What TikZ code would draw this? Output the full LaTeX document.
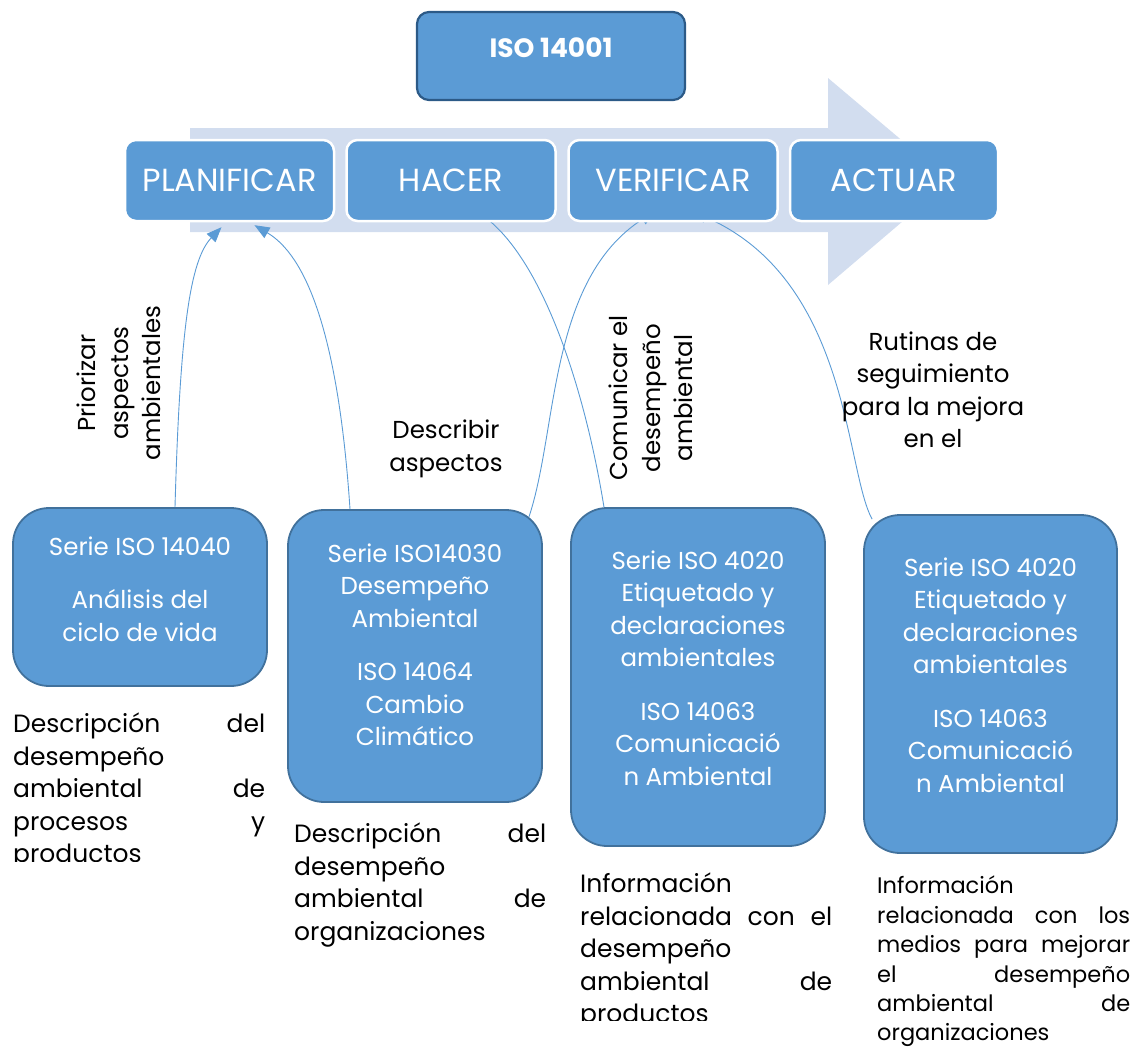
\documentclass[tikz,border=0pt]{standalone}
\usepackage{fontspec}
\setmainfont{Poppins}
\usetikzlibrary{arrows.meta}
\definecolor{boxblue}{HTML}{5B9BD5}
\definecolor{boxedge}{HTML}{41719C}
\definecolor{topedge}{HTML}{2C5A87}
\definecolor{flowband}{HTML}{D2DDEF}
% a fully justified line of given width (word spaces stretch to fill it)
\newcommand{\jline}[2][252pt]{\leavevmode
  \hbox to #1{\spaceskip=\fontdimen2\font plus 1fil\relax #2}}
\begin{document}
\begin{tikzpicture}[x=1pt,y=-1pt,
  phase/.style={draw=white, line width=2.5pt, fill=boxblue, rounded corners=11pt,
    minimum width=209pt, minimum height=81pt, text=white,
    font=\fontsize{32}{37}\selectfont, inner sep=0pt},
  stdbox/.style={draw=boxedge, line width=1.8pt, fill=boxblue, rounded corners=36pt,
    inner sep=0pt},
  stdtext/.style={text=white, align=center, font=\fontsize{24.5}{32.5}\selectfont, inner sep=0pt},
  note/.style={text=black, align=left, text width=252pt,
    font=\fontsize{25}{32.5}\selectfont, inner sep=0pt, anchor=north west},
  smallnote/.style={note, font=\fontsize{22.5}{29.4}\selectfont},
  label/.style={text=black, align=center, font=\fontsize{24.5}{32.5}\selectfont, inner sep=0pt},
  link/.style={draw=boxblue, line width=0.9pt},
  tip/.style={-{Triangle[length=15pt,width=12pt]}}
]
\useasboundingbox (0,0) rectangle (1138,1047);

% light process band behind the PDCA steps
\fill[flowband] (190,128) -- (828,128) -- (828,78) -- (950,181) -- (828,285)
  -- (828,232) -- (190,232) -- cycle;

% PDCA step centres
\coordinate (planc) at (229.5,180.5);
\coordinate (hacerc) at (451,180.5);
\coordinate (verc) at (673,180.5);
\coordinate (actc) at (894,180.5);

% standard families
\node[stdbox, minimum width=254pt, minimum height=178pt] (b1) at (140,597) {};
\node[stdbox, minimum width=254pt, minimum height=292pt] (b2) at (415,656) {};
\node[stdbox, minimum width=254pt, minimum height=338pt] (b3) at (698,677) {};
\node[stdbox, minimum width=253pt, minimum height=338pt] (b4) at (990.5,684) {};

% step outlines used as link anchors
\node[minimum width=209pt, minimum height=81pt, inner sep=0pt] (plan) at (planc) {};
\node[minimum width=209pt, minimum height=81pt, inner sep=0pt] (hacer) at (hacerc) {};
\node[minimum width=209pt, minimum height=81pt, inner sep=0pt] (ver) at (verc) {};
\node[minimum width=209pt, minimum height=81pt, inner sep=0pt] (act) at (actc) {};

% links between the families and the PDCA steps
\draw[link, tip] ([xshift=35pt]b1.north) .. controls (180,330) and (190,260)
  .. ([xshift=-8pt,yshift=-6pt]plan.south);
\draw[link, tip] ([xshift=-65pt]b2.north) .. controls (338,330) and (305,255)
  .. ([xshift=25pt,yshift=-4pt]plan.south);
\draw[link] ([xshift=39pt]hacer.south) .. controls (545,268) and (585,390)
  .. ([xshift=-94pt]b3.north);
\draw[link, tip] ([xshift=-14pt,yshift=-8pt]b2.north east) .. controls (558,430) and (548,280)
  .. ([xshift=-18pt,yshift=10pt]ver.south);
\draw[link, tip] ([xshift=9pt,yshift=-5pt]b4.north west) .. controls (845,470) and (850,280)
  .. ([xshift=19pt,yshift=10pt]ver.south);

% PDCA step boxes
\node[phase] (planb) at (planc) {PLANIFICAR};
\node[phase] (hacerb) at (hacerc) {HACER};
\node[phase] (verb) at (verc) {VERIFICAR};
\node[phase, minimum width=208pt] (actb) at (actc) {ACTUAR};

% main standard
\node[draw=topedge, line width=2.2pt, fill=boxblue, rounded corners=12pt,
  minimum width=268pt, minimum height=88pt] (iso) at (551,56) {};
\node[text=white, font=\fontsize{26.5}{30}\selectfont\bfseries, inner sep=0pt]
  (isot) at ([yshift=8pt]iso.center) {ISO 14001};

% texts inside the families
\node[stdtext] (b1t) at ([yshift=8pt]b1.center)
  {Serie ISO 14040\\[21pt]Análisis del\\ciclo de vida};
\node[stdtext] (b2t) at ([yshift=11pt]b2.center)
  {Serie ISO14030\\Desempeño\\Ambiental\\[21pt]ISO 14064\\Cambio\\Climático};
\node[stdtext] (b3t) at ([yshift=9pt]b3.center)
  {Serie ISO 4020\\Etiquetado y\\declaraciones\\ambientales\\[21pt]ISO 14063\\Comunicació\\n Ambiental};
\node[stdtext] (b4t) at ([yshift=9pt]b4.center)
  {Serie ISO 4020\\Etiquetado y\\declaraciones\\ambientales\\[21pt]ISO 14063\\Comunicació\\n Ambiental};

% descriptions under the families
\begin{scope}
  \clip (0,690) rectangle (285,861);
  \node[note] (d1) at (13,713)
    {\jline{Descripción del}\\desempeño\\\jline{ambiental de}\\\jline{procesos y}\\productos};
\end{scope}
\node[note] (d2) at (294,823)
  {\jline{Descripción del}\\desempeño\\\jline{ambiental de}\\organizaciones};
\begin{scope}
  \clip (560,850) rectangle (850,1020);
  \node[note] (d3) at (580,873)
    {Información\\\jline{relacionada con el}\\desempeño\\\jline{ambiental de}\\productos};
\end{scope}
\node[smallnote, text width=253pt] (d4) at (877,876)
  {Información\\\jline[253pt]{relacionada con los}\\\jline[253pt]{medios para mejorar}\\\jline[253pt]{el desempeño}\\\jline[253pt]{ambiental de}\\organizaciones};

% link labels
\node[label, rotate=90] (l1) at (119,383) {Priorizar\\aspectos\\ambientales};
\node[label] (l2) at (446,449) {Describir\\aspectos};
\node[label, rotate=90] (l3) at (651,398) {Comunicar el\\desempeño\\ambiental};
\node[label] (l4) at (933,390) {Rutinas de\\seguimiento\\para la mejora\\en el};
\end{tikzpicture}
\end{document}
